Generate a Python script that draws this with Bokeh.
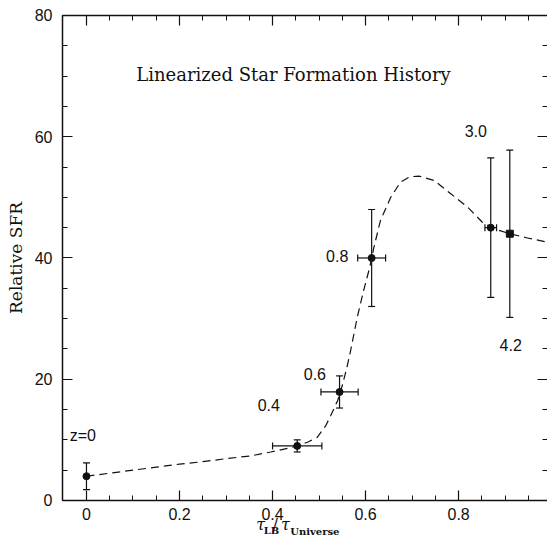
import math

from bokeh.plotting import figure
from bokeh.models import (ColumnDataSource, Whisker, LinearAxis, Range1d, Label,
                          FixedTicker, TeeHead)
from bokeh.embed import file_html
from bokeh.resources import INLINE

# Measured star formation rate versus look-back time
redshift_labels = ["z=0", "0.4", "0.6", "0.8", "3.0", "4.2"]
tau_ratio = [0.0, 0.453, 0.544, 0.613, 0.869, 0.910]
tau_err = [0.0, 0.053, 0.040, 0.030, 0.0125, 0.0]
rel_sfr = [4.0, 9.0, 17.9, 40.0, 45.0, 44.0]
sfr_err = [2.2, 1.0, 2.65, 8.0, 11.5, 13.8]
marker_kind = ["circle", "circle", "circle", "circle", "circle", "square"]

# Label anchor positions (data space) for the redshift annotations
label_x = [-0.036, 0.368, 0.467, 0.515, 0.813, 0.888]
label_y = [10.7, 15.7, 20.8, 40.3, 60.9, 25.6]

# Linearized model curve
curve_x = [0.0, 0.05, 0.1, 0.15, 0.2, 0.25, 0.3, 0.353, 0.396, 0.45, 0.475,
           0.496, 0.514, 0.525, 0.54, 0.55, 0.56, 0.568, 0.582, 0.596, 0.609,
           0.618, 0.632, 0.654, 0.675, 0.695, 0.715, 0.747, 0.783, 0.819,
           0.851, 0.876, 0.910, 0.948, 0.991]
curve_y = [4.0, 4.5, 5.0, 5.5, 6.0, 6.4, 6.9, 7.35, 8.0, 8.9, 9.6,
           10.4, 12.3, 14.0, 16.5, 19.0, 22.0, 24.8, 30.2, 34.7, 38.5,
           41.8, 46.2, 50.0, 52.5, 53.4, 53.5, 52.8, 50.6, 48.4,
           45.9, 44.8, 44.0, 43.3, 42.6]

x_major = [0.0, 0.2, 0.4, 0.6, 0.8]
x_minor = [round(0.05 * i, 2) for i in range(0, 20)]
y_major = [0, 20, 40, 60, 80]
y_minor = list(range(0, 81, 5))

X_LO, X_HI = -0.0516, 0.991   # extent of the boxed plotting area
Y_LO, Y_HI = 0, 80

SANS = "Liberation Sans"
SERIF = "DejaVu Serif"
INK = "#111111"

# The frame covers the whole canvas; the axes are pinned to the edges of the
# box so that tick labels and axis titles can sit outside it.
p = figure(width=547, height=552,
           x_range=Range1d(-0.1848, X_HI), y_range=Range1d(-8.58, 82.47),
           output_backend="svg", toolbar_location=None,
           min_border_left=0, min_border_right=0,
           min_border_top=0, min_border_bottom=0)
p.outline_line_color = None
p.xgrid.visible = False
p.ygrid.visible = False
p.background_fill_color = "white"
p.border_fill_color = "white"


def style_axis(ax, major, minor, show_labels=True):
    ax.ticker = FixedTicker(ticks=major, minor_ticks=minor)
    ax.major_tick_in = 10
    ax.major_tick_out = 0
    ax.minor_tick_in = 5
    ax.minor_tick_out = 0
    ax.axis_line_width = 1.5
    ax.axis_line_color = INK
    ax.major_tick_line_color = INK
    ax.minor_tick_line_color = INK
    ax.major_tick_line_width = 1.2
    ax.minor_tick_line_width = 1.0
    if show_labels:
        ax.major_label_text_font = SANS
        ax.major_label_text_font_size = "16px"
        ax.major_label_text_color = INK
    else:
        ax.major_label_text_font_size = "0px"
        ax.major_label_standoff = 0


xax = p.xaxis[0]
style_axis(xax, x_major, x_minor)
xax.fixed_location = Y_LO
xax.bounds = (X_LO, 2.0)
xax.major_label_standoff = 8
xax.major_label_overrides = {0.0: "0"}

yax = p.yaxis[0]
style_axis(yax, y_major, y_minor)
yax.fixed_location = X_LO
yax.bounds = (Y_LO, Y_HI)
yax.major_label_standoff = 10

top = LinearAxis()
style_axis(top, x_major, x_minor, show_labels=False)
top.fixed_location = Y_HI
top.bounds = (X_LO, 2.0)
p.add_layout(top, "above")

right = LinearAxis()
style_axis(right, y_major, y_minor, show_labels=False)
right.axis_line_color = None
right.bounds = (Y_LO, Y_HI)
p.add_layout(right, "right")

# Model curve
p.line(curve_x, curve_y, line_dash="8 5", line_width=1.2, line_color=INK)

# Error bars
pts = ColumnDataSource(dict(
    x=tau_ratio, y=rel_sfr,
    ylo=[v - e for v, e in zip(rel_sfr, sfr_err)],
    yhi=[v + e for v, e in zip(rel_sfr, sfr_err)],
    marker=marker_kind,
))
p.add_layout(Whisker(source=pts, base="x", lower="ylo", upper="yhi",
                     dimension="height", line_color=INK, line_width=1.2,
                     lower_head=TeeHead(size=7, line_color=INK, line_width=1.2),
                     upper_head=TeeHead(size=7, line_color=INK, line_width=1.2)))

hx = [i for i, e in enumerate(tau_err) if e > 0]
hsrc = ColumnDataSource(dict(
    y=[rel_sfr[i] for i in hx],
    xlo=[tau_ratio[i] - tau_err[i] for i in hx],
    xhi=[tau_ratio[i] + tau_err[i] for i in hx],
))
p.add_layout(Whisker(source=hsrc, base="y", lower="xlo", upper="xhi",
                     dimension="width", line_color=INK, line_width=1.2,
                     lower_head=TeeHead(size=7, line_color=INK, line_width=1.2),
                     upper_head=TeeHead(size=7, line_color=INK, line_width=1.2)))

p.scatter("x", "y", source=pts, marker="marker", size=7,
          fill_color=INK, line_color=INK)

# Redshift annotations
for txt, lx, ly in zip(redshift_labels, label_x, label_y):
    p.add_layout(Label(x=lx, y=ly, text=txt, text_font=SANS,
                       text_font_size="16px", text_color=INK,
                       text_align="left", text_baseline="middle"))

p.add_layout(Label(x=0.445, y=70.3, text="Linearized Star Formation History",
                   text_font=SERIF, text_font_size="18px", text_color=INK,
                   text_align="center", text_baseline="middle"))

# Left axis title, centred on the box
p.add_layout(Label(x=-0.1525, y=(Y_LO + Y_HI) / 2, text="Relative SFR",
                   angle=math.pi / 2, text_font=SERIF, text_font_size="17px",
                   text_color=INK, text_align="center", text_baseline="middle"))

# Bottom axis title built from pieces so the subscripts sit low
xl_parts = [
    ("\u03c4", 0.365, -3.96, "16px", "italic"),
    ("LB", 0.381, -5.0, "10px", "bold"),
    ("/", 0.400, -3.96, "16px", "normal"),
    ("\u03c4", 0.418, -3.96, "16px", "italic"),
    ("Universe", 0.438, -5.1, "10px", "bold"),
]
for txt, lx, ly, fs, st in xl_parts:
    p.add_layout(Label(x=lx, y=ly, text=txt, text_font=SERIF,
                       text_font_size=fs, text_font_style=st,
                       text_color=INK, text_align="left",
                       text_baseline="alphabetic"))

# tick label at the edge of the box
p.add_layout(Label(x=1.0, y=-2.5, text="1", text_font=SANS,
                   text_font_size="16px", text_color=INK,
                   text_align="center", text_baseline="middle"))

open("out.html", "w").write(file_html(p, INLINE))
